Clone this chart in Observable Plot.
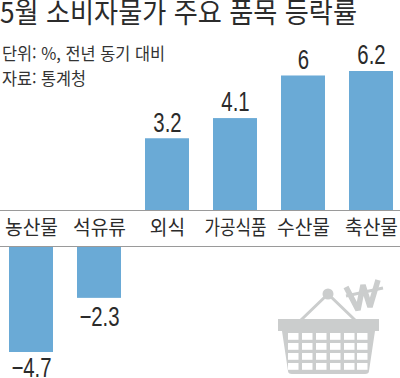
<!DOCTYPE html>
<html lang="ko">
<head>
<meta charset="utf-8">
<script src="https://cdn.jsdelivr.net/npm/d3@7"></script>
<script src="https://cdn.jsdelivr.net/npm/@observablehq/plot@0.6"></script>
<style>
html,body{margin:0;padding:0;background:#fff;overflow:hidden}
#chart{position:relative;width:400px;height:378px;font-family:"Noto Sans CJK KR",sans-serif;color:#2b2b2b}
#chart svg{display:block;position:absolute;left:0;top:0}
.t{position:absolute;left:0;white-space:nowrap;line-height:1;transform-origin:0 0}
#title{top:0;font-size:28px;line-height:22px;font-weight:400}
.note{font-size:17px;color:#333}
</style>
</head>
<body>
<div id="chart"></div>
<script>
const titleText = "5월 소비자물가 주요 품목 등락률";
const noteLines = ["단위: %, 전년 동기 대비", "자료: 통계청"];
const categories = ["농산물", "석유류", "외식", "가공식품", "수산물", "축산물"];
const values = [-4.7, -2.3, 3.2, 4.1, 6, 6.2];

const gap = 0.001; // the label strip splits the axis into two parts
const rows = categories.map((category, i) => ({
  category,
  value: values[i],
  base: values[i] < 0 ? -gap : 0
}));
const fmt = v => String(v).replace("-", "−");
const valueFont = {
  x: "category", y: "value", text: d => fmt(d.value),
  fontFamily: '"Liberation Sans"', fontSize: 27.5, fill: "#2b2b2b", lineAnchor: "middle",
  className: "val"
};

const plot = Plot.plot({
  width: 400,
  height: 378,
  margin: 0,
  style: {background: "transparent", overflow: "visible"},
  x: {type: "band", domain: categories, range: [-3, 405], paddingInner: 0.353, paddingOuter: 0.1765, round: false, axis: null},
  y: {type: "linear", domain: [6.2, 0, -gap, -4.7], range: [71, 210, 246, 352], axis: null},
  marks: [
    Plot.barY(rows, {x: "category", y1: "base", y2: "value", fill: "#6aaad6"}),
    Plot.ruleY([0, -gap], {stroke: "#9a9a9a", strokeWidth: 1}),
    Plot.text(rows, {
      x: "category", y: -gap / 2, text: "category", className: "cat",
      fontFamily: '"Noto Sans CJK KR"', fontSize: 20, fill: "#2b2b2b", lineAnchor: "middle"
    }),
    Plot.text(rows.filter(d => d.value > 0), {...valueFont, dy: -16}),
    Plot.text(rows.filter(d => d.value < -3), {...valueFont, dy: 16}),
    Plot.text(rows.filter(d => d.value < 0 && d.value >= -3), {...valueFont, dy: 19})
  ]
});
const chart = document.getElementById("chart");
chart.append(plot);

// condensed lettering of the print graphic
const squeeze = (sel, f) => sel.each(function (d, i) {
  const w = this.getComputedTextLength();
  d3.select(this).attr("textLength", f(w, this.textContent)).attr("lengthAdjust", "spacingAndGlyphs");
});
squeeze(d3.select(plot).selectAll(".val text"), w => w * 0.74);
squeeze(d3.select(plot).selectAll(".cat text"), (w, s) => s.length === 4 ? 62 : w * 0.96);

// decorative basket
const c = "#cbcdcd";
const ic = d3.select(plot).append("g").attr("fill", c).attr("stroke", "none");
ic.append("path").attr("d", "M301 320L328 294L355 320").attr("fill", "none").attr("stroke", c).attr("stroke-width", 3);
ic.append("circle").attr("cx", 328).attr("cy", 294).attr("r", 5.5);
ic.append("rect").attr("x", 278).attr("y", 319).attr("width", 101).attr("height", 12);
ic.append("path").attr("d", "M282 331H375L369 371Q369 374 365 374H292Q288 374 288 371Z");
const cols = [288, 302, 316, 330, 344, 357], rowsY = [333, 343, 353, 363];
for (const y of rowsY) for (const x of cols)
  ic.append("rect").attr("x", x).attr("y", y).attr("width", 10.5).attr("height", 6.8).attr("fill", "#fff");
ic.append("path")
  .attr("d", "M346 287L358 310L363 285L370 307L378 280")
  .attr("fill", "none").attr("stroke", c).attr("stroke-width", 5.5).attr("stroke-linejoin", "bevel");
ic.append("path")
  .attr("d", "M346 296L383 288")
  .attr("fill", "none").attr("stroke", c).attr("stroke-width", 3);

const title = document.createElement("div");
title.id = "title"; title.className = "t"; title.textContent = titleText;
chart.append(title);
title.style.transform = `scaleX(${357 / title.getBoundingClientRect().width})`;
noteLines.forEach((line, i) => {
  const n = document.createElement("div");
  n.className = "t note";
  n.style.top = (44 + i * 25) + "px";
  n.style.left = "2px";
  n.textContent = line;
  chart.append(n);
  n.style.transform = `scaleX(${(i === 0 ? 163 : 84) / n.getBoundingClientRect().width})`;
});
</script>
</body>
</html>
